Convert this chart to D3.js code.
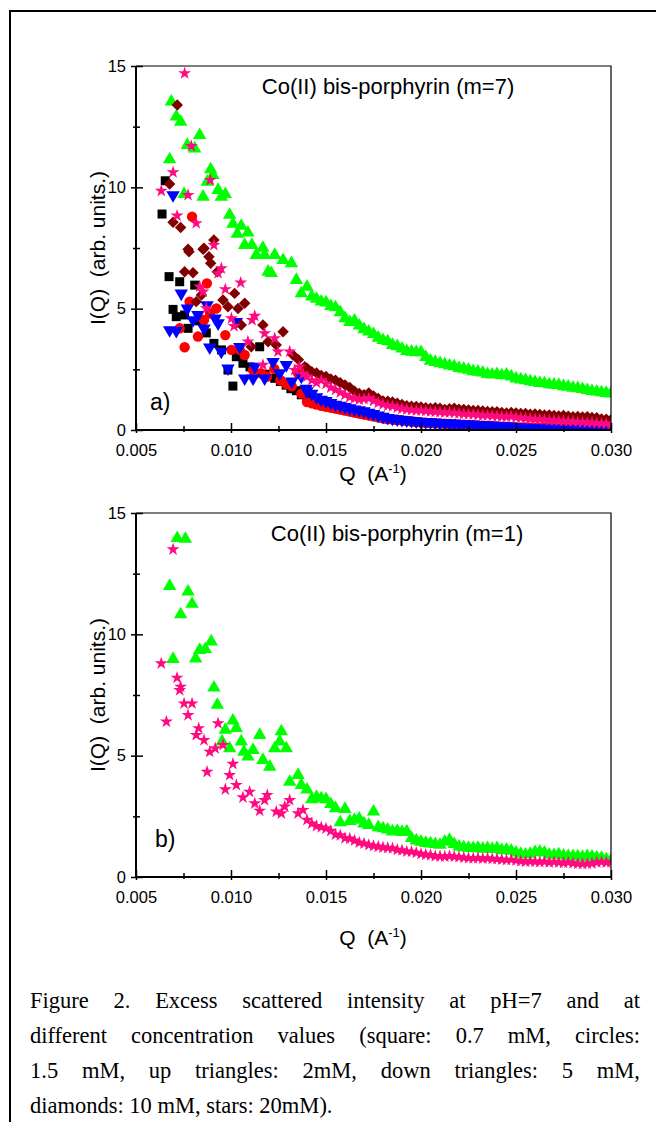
<!DOCTYPE html>
<html>
<head>
<meta charset="utf-8">
<title>Co(II) bis-porphyrin SANS</title>
<script src="https://cdnjs.cloudflare.com/ajax/libs/d3/7.8.5/d3.min.js"></script>
<style>
 body { margin: 0; background: #fff; }
 #wrap { position: relative; width: 656px; height: 1122px; overflow: hidden; background: #fff; }
 #caption { position: absolute; left: 30px; top: 983px; width: 610px;
   font-family: "Liberation Serif", "Times New Roman", serif; font-size: 22.5px; line-height: 35px; color: #000; }
 #caption div { text-align: justify; text-align-last: justify; white-space: nowrap; }
 #caption div.last { text-align: left; text-align-last: left; }
</style>
</head>
<body>
<div id="wrap"></div>
<script>
// shared Q values of the dense high-Q part (A^-1)
const qTail = [
 0.01400, 0.01425, 0.01450, 0.01475, 0.01500,
 0.01525, 0.01550, 0.01575, 0.01600, 0.01625,
 0.01650, 0.01675, 0.01700, 0.01725, 0.01750,
 0.01775, 0.01800, 0.01825, 0.01850, 0.01875,
 0.01900, 0.01925, 0.01950, 0.01975, 0.02000,
 0.02025, 0.02050, 0.02075, 0.02100, 0.02125,
 0.02150, 0.02175, 0.02200, 0.02225, 0.02250,
 0.02275, 0.02300, 0.02325, 0.02350, 0.02375,
 0.02400, 0.02425, 0.02450, 0.02475, 0.02500,
 0.02525, 0.02550, 0.02575, 0.02600, 0.02625,
 0.02650, 0.02675, 0.02700, 0.02725, 0.02750,
 0.02775, 0.02800, 0.02825, 0.02850, 0.02875,
 0.02900, 0.02925, 0.02950, 0.02975, 0.03000
];

// ---- panel a (m=7) ----
// squares, 0.7 mM
const sqEarly = [[0.00637,8.90],[0.00654,10.27],[0.00674,6.32],[0.00695,4.97],[0.00712,4.67],[0.0073,6.11],
 [0.00756,4.74],[0.00774,4.19],[0.00809,5.97],[0.0083,4.5],[0.0087,4.0],[0.0091,3.57],[0.0095,3.3],
 [0.00984,2.47],[0.0101,1.81],[0.01028,3.02],[0.01063,2.75],[0.011,2.6],[0.01151,3.43],[0.0118,2.3],
 [0.0123,2.13],[0.0126,2.0],[0.0129,1.85],[0.01315,1.7],[0.01344,1.62],[0.0137,1.45]];
const sqTail = [
 1.3, 1.2, 1.12, 1.08, 1.0,
 0.96, 0.92, 0.86, 0.82, 0.78,
 0.74, 0.7, 0.66, 0.62, 0.58,
 0.54, 0.5, 0.46, 0.44, 0.42,
 0.4, 0.38, 0.36, 0.34, 0.32,
 0.3, 0.29, 0.28, 0.27, 0.26,
 0.25, 0.24, 0.23, 0.22, 0.21,
 0.2, 0.19, 0.18, 0.17, 0.16,
 0.15, 0.14, 0.13, 0.12, 0.11,
 0.1, 0.1, 0.09, 0.09, 0.08,
 0.08, 0.07, 0.07, 0.06, 0.06,
 0.05, 0.05, 0.05, 0.04, 0.04,
 0.04, 0.03, 0.03, 0.03, 0.02];

// circles, 1.5 mM
const ciEarly = [[0.0073,4.19],[0.00756,3.41],[0.00782,5.29],[0.00795,8.79],[0.00826,3.85],[0.00858,4.53],
 [0.00873,6.04],[0.0089,4.8],[0.00923,5.01],[0.0097,3.91],[0.01002,3.30],[0.01046,3.30],[0.01072,3.09],
 [0.01116,2.47],[0.01158,2.34],[0.0119,2.2],[0.01228,2.52],[0.0126,2.05],[0.0129,1.9],[0.0132,1.8],
 [0.01353,2.34],[0.0137,1.5]];
const ciTail = [
 1.15, 1.1, 1.05, 1.0, 0.96,
 0.92, 0.88, 0.84, 0.8, 0.76,
 0.72, 0.68, 0.64, 0.6, 0.56,
 0.52, 0.48, 0.45, 0.43, 0.41,
 0.39, 0.37, 0.35, 0.33, 0.31,
 0.3, 0.29, 0.28, 0.27, 0.26,
 0.25, 0.24, 0.23, 0.22, 0.21,
 0.2, 0.19, 0.18, 0.17, 0.16,
 0.15, 0.14, 0.13, 0.12, 0.11,
 0.1, 0.1, 0.09, 0.09, 0.08,
 0.08, 0.07, 0.07, 0.06, 0.06,
 0.05, 0.05, 0.05, 0.04, 0.04,
 0.04, 0.03, 0.03, 0.03, 0.02];

// up triangles, 2 mM
const upEarly = [[0.00677,11.15],[0.00686,13.53],[0.00712,12.91],[0.00735,12.70],[0.00753,9.72],[0.0077,11.74],
 [0.00809,11.6],[0.00835,12.15],[0.00853,9.61],[0.00875,10.23],[0.00893,10.74],[0.00905,10.5],[0.00932,9.89],
 [0.00949,9.61],[0.0097,9.72],[0.00993,8.86],[0.0101,8.49],[0.01033,8.08],[0.01054,8.41],[0.01072,7.62],
 [0.01089,8.13],[0.0111,7.62],[0.01133,7.21],[0.01168,7.5],[0.01177,7.21],[0.01195,6.52],[0.01212,6.46],
 [0.0123,7.21],[0.01274,7.0],[0.01318,6.87],[0.01344,6.18],[0.0137,5.63]];
const upTail = [
 5.9, 5.5, 5.4, 5.29, 5.25,
 5.1, 5.05, 4.85, 4.6, 4.45,
 4.5, 4.3, 4.15, 4.05, 3.95,
 3.8, 3.7, 3.65, 3.5, 3.45,
 3.35, 3.25, 3.22, 3.2, 3.2,
 3.0, 2.85, 2.8, 2.75, 2.7,
 2.65, 2.62, 2.55, 2.52, 2.48,
 2.42, 2.4, 2.36, 2.3, 2.28,
 2.3, 2.25, 2.28, 2.2, 2.12,
 2.08, 2.05, 2.0, 1.97, 1.93,
 1.92, 1.88, 1.86, 1.85, 1.8,
 1.78, 1.74, 1.72, 1.68, 1.64,
 1.6, 1.58, 1.55, 1.52, 1.5];

// down triangles, 5 mM
const dnEarly = [[0.00677,4.12],[0.00695,9.68],[0.00712,4.09],[0.00738,5.63],[0.0077,5.01],[0.008,4.53],
 [0.00826,4.74],[0.00858,4.19],[0.00874,5.15],[0.00888,3.41],[0.00917,4.60],[0.00932,4.40],[0.00949,3.23],
 [0.00984,2.54],[0.01028,4.46],[0.01046,3.43],[0.01072,2.13],[0.01116,2.13],[0.01125,2.61],[0.01177,2.13],
 [0.01221,2.81],[0.01256,2.34],[0.01291,2.68],[0.0132,2.0],[0.0137,2.2],[0.01395,1.7]];
const dnTail = [
 1.6, 1.5, 1.35, 1.25, 1.2,
 1.12, 1.05, 1.0, 0.95, 0.9,
 0.85, 0.82, 0.78, 0.72, 0.66,
 0.6, 0.55, 0.5, 0.47, 0.44,
 0.42, 0.4, 0.38, 0.36, 0.34,
 0.33, 0.32, 0.3, 0.29, 0.28,
 0.27, 0.26, 0.25, 0.24, 0.23,
 0.22, 0.21, 0.2, 0.19, 0.18,
 0.17, 0.16, 0.15, 0.14, 0.12,
 0.11, 0.1, 0.09, 0.08, 0.08,
 0.07, 0.07, 0.06, 0.06, 0.05,
 0.05, 0.05, 0.04, 0.04, 0.04,
 0.04, 0.03, 0.03, 0.03, 0.03];

// diamonds, 10 mM
const diEarly = [[0.00677,10.14],[0.00695,8.56],[0.00717,13.39],[0.00735,8.34],[0.00756,6.52],[0.00774,7.45],
 [0.00779,7.35],[0.008,6.48],[0.00817,5.29],[0.00844,5.56],[0.00853,7.45],[0.00858,7.49],[0.00884,7.14],
 [0.00893,6.87],[0.0091,7.83],[0.00928,6.52],[0.00958,5.36],[0.00984,5.08],[0.01019,5.63],[0.01037,5.01],
 [0.01054,4.33],[0.01072,5.22],[0.01107,3.43],[0.01168,4.33],[0.01195,3.64],[0.01238,3.50],[0.01274,4.05],
 [0.01326,3.09],[0.01355,2.9],[0.01388,2.61]];
const diTail = [
 2.55, 2.4, 2.35, 2.25, 2.2,
 2.1, 2.05, 1.95, 1.85, 1.75,
 1.6, 1.5, 1.45, 1.52, 1.4,
 1.3, 1.2, 1.18, 1.15, 1.1,
 1.05, 1.0, 0.98, 0.97, 0.95,
 0.92, 0.9, 0.92, 0.9, 0.85,
 0.88, 0.9, 0.86, 0.85, 0.82,
 0.8, 0.8, 0.78, 0.76, 0.75,
 0.75, 0.72, 0.7, 0.72, 0.7,
 0.68, 0.68, 0.65, 0.66, 0.64,
 0.62, 0.62, 0.6, 0.58, 0.6,
 0.57, 0.55, 0.56, 0.54, 0.55,
 0.52, 0.5, 0.45, 0.44, 0.42];

// stars, 20 mM
const stEarly = [[0.00633,9.85],[0.00695,10.62],[0.00716,8.83],[0.00756,14.70],[0.00774,9.68],[0.00791,11.70],
 [0.00817,8.52],[0.00835,5.91],[0.00853,5.70],[0.0087,5.01],[0.00891,10.30],[0.0091,7.62],[0.00932,6.46],
 [0.00949,6.66],[0.0097,5.80],[0.01002,4.60],[0.01016,4.28],[0.01051,6.07],[0.01089,3.64],[0.01111,4.53],
 [0.01125,4.70],[0.01168,2.68],[0.01177,3.98],[0.0123,3.78],[0.01247,3.23],[0.01309,3.23],[0.01335,2.47],
 [0.0136,2.6],[0.0138,2.3]];
const stTail = [
 2.2, 2.05, 1.95, 2.05, 1.9,
 1.75, 1.65, 1.55, 1.45, 1.35,
 1.3, 1.25, 1.28, 1.3, 1.2,
 1.12, 1.05, 1.0, 0.98, 0.92,
 0.88, 0.85, 0.82, 0.8, 0.8,
 0.78, 0.76, 0.75, 0.74, 0.72,
 0.72, 0.7, 0.68, 0.66, 0.65,
 0.64, 0.62, 0.6, 0.6, 0.58,
 0.57, 0.55, 0.54, 0.55, 0.52,
 0.5, 0.48, 0.46, 0.45, 0.44,
 0.42, 0.4, 0.4, 0.38, 0.37,
 0.36, 0.35, 0.33, 0.32, 0.3,
 0.3, 0.28, 0.27, 0.26, 0.25];

// ---- panel b (m=1) ----
const bUpEarly = [[0.00677,11.99],[0.00695,8.98],[0.00717,13.96],[0.00735,10.82],[0.0076,13.93],[0.00774,11.76],
 [0.00795,11.25],[0.00814,9.0],[0.00835,9.35],[0.00865,9.39],[0.00896,9.70],[0.0091,7.80],[0.00928,7.09],
 [0.00953,5.58],[0.0097,6.06],[0.00993,5.30],[0.0101,6.44],[0.01028,6.13],[0.01054,5.58],[0.01068,5.16],
 [0.01089,4.96],[0.01116,5.23],[0.01151,5.85],[0.01168,4.82],[0.01204,4.54],[0.0123,5.30],[0.01256,5.58],
 [0.01265,6.0],[0.01291,5.30],[0.01309,3.92],[0.01353,4.20],[0.0137,3.79]];
const bUpTail = [
 3.6, 3.2, 3.3, 3.24, 3.2,
 3.0, 2.83, 2.25, 2.8, 2.3,
 2.35, 2.4, 2.2, 2.14, 2.69,
 2.05, 2.0, 1.95, 1.87, 1.9,
 1.85, 1.87, 1.6, 1.5, 1.45,
 1.4, 1.38, 1.35, 1.32, 1.45,
 1.52, 1.35, 1.25, 1.22, 1.2,
 1.18, 1.2, 1.16, 1.18, 1.15,
 1.18, 1.1, 1.12, 1.08, 1.0,
 0.95, 0.92, 0.95, 1.02, 1.04,
 1.0, 0.92, 0.9, 0.93, 0.88,
 0.85, 0.86, 0.84, 0.82, 0.85,
 0.83, 0.8, 0.78, 0.72, 0.7];

const bStEarly = [[0.00633,8.80],[0.0066,6.40],[0.00695,13.50],[0.00716,8.21],[0.0073,7.7],[0.00735,7.84],
 [0.00753,7.15],[0.00774,6.67],[0.00795,7.15],[0.00817,5.85],[0.0083,6.13],[0.00858,5.64],[0.00874,4.33],
 [0.00888,5.16],[0.00917,5.30],[0.00932,6.33],[0.00958,5.44],[0.0097,3.61],[0.00993,4.20],[0.0101,4.66],
 [0.01028,3.79],[0.01063,3.28],[0.01098,3.51],[0.01125,3.03],[0.01151,2.73],[0.01177,3.17],[0.01191,3.38],
 [0.01238,2.69],[0.01265,2.62],[0.01283,2.90],[0.01309,3.17],[0.01353,2.62],[0.01379,2.76]];
const bStTail = [
 2.35, 2.2, 2.1, 2.05, 2.0,
 1.9, 1.75, 1.72, 1.6, 1.58,
 1.5, 1.42, 1.38, 1.32, 1.28,
 1.25, 1.22, 1.2, 1.18, 1.12,
 1.1, 1.05, 1.04, 1.0, 0.95,
 0.92, 0.9, 0.86, 0.85, 0.84,
 0.86, 0.84, 0.82, 0.8, 0.78,
 0.77, 0.78, 0.76, 0.77, 0.75,
 0.74, 0.72, 0.7, 0.71, 0.68,
 0.65, 0.63, 0.64, 0.63, 0.62,
 0.63, 0.6, 0.62, 0.6, 0.58,
 0.6, 0.57, 0.55, 0.54, 0.55,
 0.56, 0.6, 0.62, 0.6, 0.62];

// ticks and text
const xTicks = [0.005, 0.010, 0.015, 0.020, 0.025, 0.030];
const xMinor = [0.0075, 0.0125, 0.0175, 0.0225, 0.0275];
const yTicks = [0, 5, 10, 15];
const yMinor = [2.5, 7.5, 12.5];
const titles = ["Co(II) bis-porphyrin (m=7)", "Co(II) bis-porphyrin (m=1)"];
const tags = ["a)", "b)"];
const captionLines = [
 "Figure 2. Excess scattered intensity at pH=7 and at",
 "different concentration values (square: 0.7 mM, circles:",
 "1.5 mM, up triangles: 2mM, down triangles: 5 mM,",
 "diamonds: 10 mM, stars: 20mM)."
];

function join(early, tail) {
  return early.map(([q, v]) => ({q, v})).concat(qTail.map((q, i) => ({q, v: tail[i]})));
}

const colors = {square: "#000000", circle: "#ff0000", up: "#00ff00", down: "#0000ff", diamond: "#800000", star: "#ff0a80"};

const panelA = [
  {shape: "square", data: join(sqEarly, sqTail)},
  {shape: "circle", data: join(ciEarly, ciTail)},
  {shape: "up", data: join(upEarly, upTail)},
  {shape: "down", data: join(dnEarly, dnTail)},
  {shape: "diamond", data: join(diEarly, diTail)},
  {shape: "star", data: join(stEarly, stTail)}
];
const panelB = [
  {shape: "up", data: join(bUpEarly, bUpTail)},
  {shape: "star", data: join(bStEarly, bStTail)}
];

const symPath = {
  square: d3.symbol().type(d3.symbolSquare).size(81)(),
  circle: d3.symbol().type(d3.symbolCircle).size(85)(),
  up: d3.symbol().type(d3.symbolTriangle).size(78)(),
  down: d3.symbol().type(d3.symbolTriangle).size(78)(),
  diamond: d3.symbol().type(d3.symbolSquare).size(66)(),
  star: d3.symbol().type(d3.symbolStar).size(52)()
};
const symRot = {square: 0, circle: 0, up: 0, down: 180, diamond: 45, star: 0};

const W = 656, H = 1122;
const plotL = 136, plotR = 611;

const wrap = d3.select("#wrap");
const svg = wrap.append("svg")
  .attr("width", W).attr("height", H)
  .attr("font-family", "'Liberation Sans', Arial, sans-serif")
  .style("position", "absolute").style("left", 0).style("top", 0);

// page frame
svg.append("path")
  .attr("d", `M10,${H} V11 H${W}`)
  .attr("fill", "none").attr("stroke", "#000").attr("stroke-width", 2);

const layout = [
  {top: 66, bottom: 430, titleX: 388, titleY: 94, tagX: 150, tagY: 410, qY: 481, series: panelA},
  {top: 513, bottom: 877, titleX: 397, titleY: 541, tagX: 155, tagY: 847, qY: 945, series: panelB}
];

layout.forEach((p, k) => {
  const x = d3.scaleLinear().domain([0.005, 0.030]).range([plotL, plotR]);
  const y = d3.scaleLinear().domain([0, 15]).range([p.bottom, p.top]);
  const g = svg.append("g");

  g.append("clipPath").attr("id", "clip" + k)
    .append("rect").attr("x", plotL).attr("y", p.top)
    .attr("width", plotR - plotL).attr("height", p.bottom - p.top);

  const marks = g.append("g").attr("clip-path", `url(#clip${k})`);
  p.series.forEach(s => {
    marks.append("g").selectAll("path")
      .data(s.data)
      .join("path")
      .attr("d", symPath[s.shape])
      .attr("transform", d => `translate(${x(d.q)},${y(d.v)}) rotate(${symRot[s.shape]})`)
      .attr("fill", colors[s.shape]);
  });

  // frame: top and right thin, bottom and left heavier
  g.append("path").attr("d", `M${plotL},${p.top} H${plotR} V${p.bottom}`)
    .attr("fill", "none").attr("stroke", "#000").attr("stroke-width", 1.2);

  const xa = g.append("g").attr("transform", `translate(0,${p.bottom})`)
    .call(d3.axisBottom(x).tickValues(xTicks).tickFormat(d3.format(".3f"))
      .tickSizeInner(-7).tickSizeOuter(0).tickPadding(14));
  xa.attr("font-family", null).attr("font-size", null);
  xa.select(".domain").remove();
  xa.selectAll(".tick line").attr("y1", 3).attr("stroke-width", 1.5);
  xa.selectAll(".tick text").attr("font-size", 16.5);

  const xm = g.append("g").attr("transform", `translate(0,${p.bottom})`)
    .call(d3.axisBottom(x).tickValues(xMinor).tickFormat("").tickSizeInner(-4).tickSizeOuter(0));
  xm.select(".domain").remove();
  xm.selectAll(".tick line").attr("y1", 2).attr("stroke-width", 1.5);

  const ya = g.append("g").attr("transform", `translate(${plotL},0)`)
    .call(d3.axisLeft(y).tickValues(yTicks).tickFormat(d3.format("d"))
      .tickSizeInner(-7).tickSizeOuter(0).tickPadding(10));
  ya.attr("font-family", null).attr("font-size", null);
  ya.select(".domain").remove();
  ya.selectAll(".tick line").attr("x1", -5).attr("stroke-width", 1.5);
  ya.selectAll(".tick text").attr("font-size", 16.5);

  const ym = g.append("g").attr("transform", `translate(${plotL},0)`)
    .call(d3.axisLeft(y).tickValues(yMinor).tickFormat("").tickSizeInner(-4).tickSizeOuter(0));
  ym.select(".domain").remove();
  ym.selectAll(".tick line").attr("x1", -3).attr("stroke-width", 1.5);

  g.append("path").attr("d", `M${plotL},${p.top} V${p.bottom} H${plotR}`)
    .attr("fill", "none").attr("stroke", "#000").attr("stroke-width", 2);

  g.append("text").attr("x", p.titleX).attr("y", p.titleY)
    .attr("text-anchor", "middle").attr("font-size", 22).text(titles[k]);

  g.append("text").attr("x", p.tagX).attr("y", p.tagY)
    .attr("font-size", 23).text(tags[k]);

  const ql = g.append("text").attr("x", 373).attr("y", p.qY)
    .attr("text-anchor", "middle").attr("font-size", 21).style("white-space", "pre");
  ql.append("tspan").text("Q  (A");
  ql.append("tspan").attr("dy", -8).attr("font-size", 13).text("-1");
  ql.append("tspan").attr("dy", 8).text(")");

  g.append("text")
    .attr("transform", `translate(105,${(p.top + p.bottom) / 2}) rotate(-90)`)
    .attr("text-anchor", "middle").attr("font-size", 21).style("white-space", "pre")
    .text("I(Q)  (arb. units.)");
});

const cap = wrap.append("div").attr("id", "caption");
cap.selectAll("div").data(captionLines).join("div")
  .attr("class", (d, i) => i === captionLines.length - 1 ? "last" : null)
  .text(d => d);
</script>
</body>
</html>
